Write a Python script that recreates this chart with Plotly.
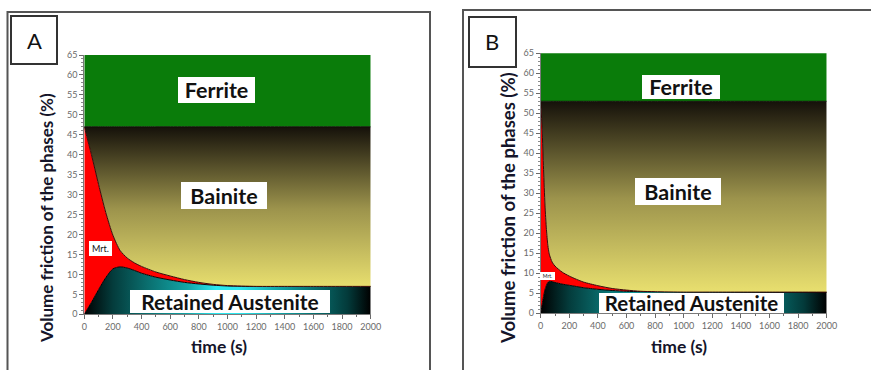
import plotly.graph_objects as go

# ---- phase fractions (%) vs isothermal holding time (s) ----
# Panel A
time_a = [0, 50, 100, 150, 200, 250, 300, 350, 400, 500, 600, 700, 800, 900,
          1000, 1200, 1400, 1600, 1800, 2000]
austenite_a = [0, 3.0, 6.2, 9.2, 11.4, 11.9, 11.6, 11.0, 10.3, 9.3, 8.6, 8.0,
               7.6, 7.3, 7.1, 7.0, 7.0, 7.0, 7.0, 7.0]
martensite_a = [47, 37.0, 26.3, 16.3, 8.4, 4.1, 2.5, 1.9, 1.7, 1.3, 1.0, 0.7,
                0.4, 0.2, 0.1, 0, 0, 0, 0, 0]
bainite_a = [0, 7.0, 14.5, 21.5, 27.2, 31.0, 32.9, 34.1, 35.0, 36.4, 37.4, 38.3,
             39.0, 39.5, 39.8, 40.0, 40.0, 40.0, 40.0, 40.0]
ferrite_a = [53] * len(time_a)

# Panel B
time_b = [0, 10, 20, 30, 40, 50, 60, 80, 100, 150, 200, 250, 300, 400, 500,
          600, 700, 800, 1000, 1200, 1400, 1600, 1800, 2000]
austenite_b = [0, 2.2, 4.2, 5.9, 7.0, 7.7, 8.0, 7.9, 7.7, 7.3, 7.0, 6.7, 6.4,
               6.0, 5.7, 5.5, 5.4, 5.35, 5.3, 5.3, 5.3, 5.3, 5.3, 5.3]
martensite_b = [53, 43.8, 31.8, 21.1, 14.0, 9.3, 6.8, 4.9, 4.1, 3.0, 2.3, 1.8,
                1.4, 0.9, 0.5, 0.3, 0.1, 0.05, 0, 0, 0, 0, 0, 0]
bainite_b = [0, 7.0, 17.0, 26.0, 32.0, 36.0, 38.2, 40.2, 41.2, 42.7, 43.7,
             44.5, 45.2, 46.1, 46.8, 47.2, 47.5, 47.6, 47.7, 47.7, 47.7, 47.7,
             47.7, 47.7]
ferrite_b = [47] * len(time_b)

x_ticks = list(range(0, 2001, 200))
y_ticks = list(range(0, 66, 5))

W, H = 871, 370


def fx(p):
    return p / W


def fy(p):
    return 1 - p / H


GREEN = "#0a7c0a"
RED = "#ff0000"
BAINITE_SCALE = [[0, "#ebe270"], [0.5, "#9c934c"], [1, "#15110a"]]
# dark at both ends, bright cyan glow in the middle of the time span
AUSTENITE_SCALE = [[0, "#000000"], [0.1, "#043c3c"], [0.22, "#0a6e6e"],
                   [0.36, "#12a4a6"], [0.46, "#2ae6ee"], [0.54, "#2ae6ee"],
                   [0.68, "#10a4a6"], [0.8, "#087070"], [0.92, "#033a3a"],
                   [1, "#000000"]]

fig = go.Figure()


def add_panel(t, ra, mrt, bai, fer, xa, ya, group, bai_low, bai_high):
    fig.add_trace(go.Scatter(
        x=t, y=ra, stackgroup=group, mode="lines", xaxis=xa, yaxis=ya,
        line=dict(color="#050505", width=1, shape="spline", smoothing=0.7),
        fillgradient=dict(type="horizontal", start=0, stop=2000,
                          colorscale=AUSTENITE_SCALE),
        hoverinfo="skip", showlegend=False))
    fig.add_trace(go.Scatter(
        x=t, y=mrt, stackgroup=group, mode="lines", xaxis=xa, yaxis=ya,
        line=dict(color="#3a0808", width=1, shape="spline", smoothing=0.7),
        fillcolor=RED, hoverinfo="skip", showlegend=False))
    fig.add_trace(go.Scatter(
        x=t, y=bai, stackgroup=group, mode="lines", xaxis=xa, yaxis=ya,
        line=dict(color="#111008", width=1, shape="spline", smoothing=0.7),
        fillgradient=dict(type="vertical", start=bai_low, stop=bai_high,
                          colorscale=BAINITE_SCALE),
        hoverinfo="skip", showlegend=False))
    fig.add_trace(go.Scatter(
        x=t, y=fer, stackgroup=group, mode="lines", xaxis=xa, yaxis=ya,
        line=dict(color=GREEN, width=0),
        fillcolor=GREEN, hoverinfo="skip", showlegend=False))


add_panel(time_a, austenite_a, martensite_a, bainite_a, ferrite_a,
          "x", "y", "A", 6, 47)
add_panel(time_b, austenite_b, martensite_b, bainite_b, ferrite_b,
          "x2", "y2", "B", 4.5, 53)

tick_font = dict(family="Lato, sans-serif", size=9, color="#6a6a6a")
axis_common = dict(
    showgrid=False, zeroline=False, showline=True, linecolor="#7a7a7a",
    linewidth=1, ticks="outside", ticklen=4, tickwidth=1, tickcolor="#6a6a6a",
    tickfont=tick_font, mirror=False, automargin=False,
)
x_common = dict(axis_common, range=[0, 2000], tickvals=x_ticks,
                minor=dict(dtick=100, ticks="outside", ticklen=2,
                           tickcolor="#6a6a6a"))
y_common = dict(axis_common, range=[0, 65], tickvals=y_ticks,
                minor=dict(dtick=1, ticks="outside", ticklen=2,
                           tickcolor="#8a8a8a"))

fig.update_layout(
    width=W, height=H, margin=dict(l=0, r=0, t=0, b=0, pad=0,
                                   autoexpand=False),
    paper_bgcolor="white", plot_bgcolor="white",
    xaxis=dict(x_common, domain=[fx(84.3), fx(370.7)], anchor="y"),
    yaxis=dict(y_common, domain=[fy(314.3), fy(55)], anchor="x"),
    xaxis2=dict(x_common, domain=[fx(540.7), fx(826.7)], anchor="y2"),
    yaxis2=dict(y_common, domain=[fy(313.3), fy(53.3)], anchor="x2"),
)


def box_label(text, x, y, xa, ya, w, h, size=21, weight="bold"):
    fig.add_annotation(
        x=x, y=y, xref=xa, yref=ya, text=text, showarrow=False,
        xanchor="center", yanchor="middle", width=w, height=h,
        font=dict(family="Lato, sans-serif", size=size, color="#111111",
                  weight=weight),
        bgcolor="white", borderpad=0, borderwidth=0)


# Panel A labels
box_label("Ferrite", 920, 56.2, "x", "y", 77, 26, 21.5)
box_label("Bainite", 975, 29.9, "x", "y", 86, 27, 21.5)
box_label("Retained Austenite", 1017, 3.2, "x", "y", 200, 23, 21)
box_label("Mrt.", 110, 16.4, "x", "y", 23, 15, 9, "normal")
# Panel B labels
box_label("Ferrite", 981, 56.6, "x2", "y2", 78, 24, 21.5)
box_label("Bainite", 960, 30.4, "x2", "y2", 86, 27, 21.5)
box_label("Retained Austenite", 1057, 2.5, "x2", "y2", 185, 20, 20.5)
box_label("Mrt.", 48, 9.4, "x2", "y2", 15, 8, 5, "normal")

title_font = dict(family="Lato, sans-serif", size=17, color="#15152a",
                  weight="bold")


def paper_text(text, x, y, font, angle=0):
    fig.add_annotation(x=fx(x), y=fy(y), xref="paper", yref="paper",
                       text=text, textangle=angle, showarrow=False,
                       xanchor="center", yanchor="middle", font=font)


paper_text("Volume friction of the phases (%)", 46, 218, title_font, -90)
paper_text("Volume friction of the phases (%)", 508, 208,
           dict(title_font, size=18.5), -90)
paper_text("time (s)", 219, 346, dict(title_font, size=17.5))
paper_text("time (s)", 679, 346, dict(title_font, size=17.5))

# Panel frames and corner letters
fig.add_shape(type="rect", xref="paper", yref="paper",
              x0=fx(7.5), x1=fx(430), y0=fy(390), y1=fy(12),
              line=dict(color="#555555", width=2), layer="below")
fig.add_shape(type="rect", xref="paper", yref="paper",
              x0=fx(463), x1=fx(890), y0=fy(390), y1=fy(10),
              line=dict(color="#555555", width=2), layer="below")
fig.add_shape(type="rect", xref="paper", yref="paper",
              x0=fx(11), x1=fx(57), y0=fy(64), y1=fy(16),
              line=dict(color="#333333", width=2), fillcolor="white")
fig.add_shape(type="rect", xref="paper", yref="paper",
              x0=fx(469), x1=fx(516), y0=fy(67), y1=fy(17),
              line=dict(color="#333333", width=2), fillcolor="white")
letter_font = dict(family="Lato, sans-serif", size=22, color="#111111")
paper_text("A", 34, 40, letter_font)
paper_text("B", 492.5, 42, letter_font)

fig.write_html("out.html")
